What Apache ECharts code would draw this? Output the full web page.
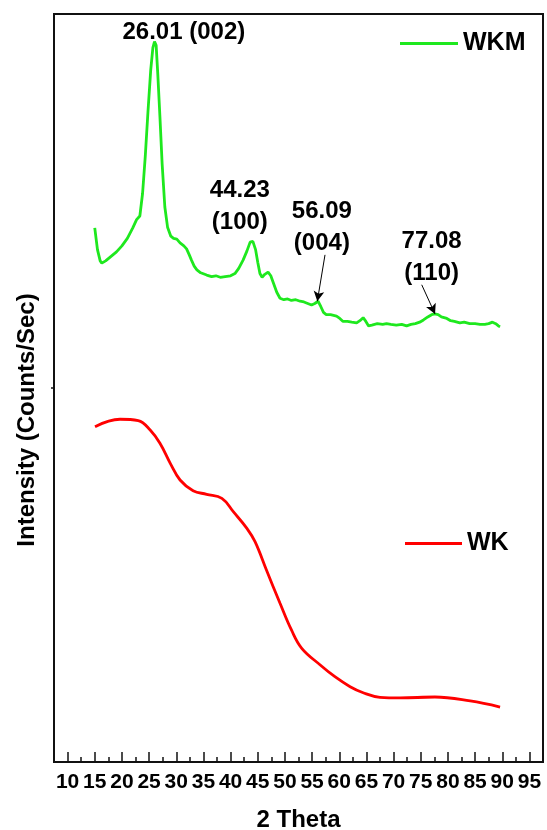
<!DOCTYPE html>
<html>
<head>
<meta charset="utf-8">
<script src="https://cdn.jsdelivr.net/npm/echarts@6/dist/echarts.min.js"></script>
<style>html,body{margin:0;padding:0;background:#fff}#c{width:547px;height:830px}</style>
</head>
<body>
<div id="c"></div>
<script>
// 2 Theta values and intensities (arbitrary units, offset stacked)
const wkmTheta = [15.0,15.5,16.0,16.3,17,18,19,20,21,22,22.7,23.3,23.8,24.3,24.8,25.3,25.7,26.0,26.3,26.6,27.0,27.4,27.9,28.4,29.0,29.5,30.1,30.7,31.4,31.9,32.4,32.8,33.3,33.8,34.5,35.6,36.5,37.3,38.1,39,40,40.8,41.5,42.3,43.0,43.6,44.1,44.6,45.0,45.4,45.8,46.3,46.9,47.4,47.9,48.5,49.1,49.8,50.5,51.2,52.0,52.8,53.5,54.2,54.9,55.5,56.1,56.6,57.1,57.6,58.4,59.5,60.1,60.7,61.5,62.3,63.2,63.8,64.4,64.9,65.4,66.0,67.0,68.0,68.7,69.5,70.5,71.5,72.4,73.2,74.0,74.8,75.5,76.3,77.0,77.6,78.2,78.8,79.8,80.5,81.2,82.2,83.0,84.0,85.0,85.9,86.8,87.5,88.2,88.8,89.3,89.6];
const wkmInt = [71.4,68.5,67.0,66.7,67.0,67.6,68.2,69.0,70.0,71.4,72.5,73.0,76,81,87,92.5,95.5,96.3,95.8,92,86.2,80,74.2,71.5,70.3,70.0,69.9,69.4,69.0,68.6,67.8,67.1,66.3,65.8,65.4,65.1,64.9,65.0,64.8,64.9,65.0,65.3,66.0,67.1,68.3,69.5,69.6,68.5,66.8,65.3,64.8,65.2,65.5,65.0,64.0,62.8,62.0,61.8,61.9,61.7,61.8,61.6,61.5,61.3,61.1,61.3,61.6,60.9,60.1,59.8,59.8,59.6,59.3,58.9,58.9,58.8,58.7,59.0,59.4,58.9,58.3,58.4,58.6,58.5,58.6,58.5,58.4,58.5,58.3,58.5,58.6,58.8,59.1,59.5,59.8,59.9,59.8,59.5,59.3,59.0,58.9,58.7,58.8,58.6,58.6,58.5,58.5,58.6,58.8,58.6,58.3,58.2];
const wkTheta = [15.05,19.65,23.0,25.2,27.0,28.9,30.7,33.1,35.6,38.4,40.5,43.0,44.5,46.6,49.1,51.2,53.1,56.5,59.2,62.0,64.4,67.5,71.2,77.6,84.1,89.6];
const wkInt = [44.83,45.82,45.63,44.39,42.61,39.93,37.70,36.27,35.79,35.25,33.46,31.24,29.45,25.67,21.22,17.65,15.20,12.97,11.40,10.07,9.26,8.65,8.56,8.69,8.16,7.35];
const majorTicks = [10,15,20,25,30,35,40,45,50,55,60,65,70,75,80,85,90,95];
const minorTicks = [12.5,17.5,22.5,27.5,32.5,37.5,42.5,47.5,52.5,57.5,62.5,67.5,72.5,77.5,82.5,87.5,92.5];
const yTicks = [50];
const peakLabels = [
  {text:'26.01 (002)', at:[31.4,97.6]},
  {text:'44.23\n(100)', at:[41.7,74.3]},
  {text:'56.09\n(004)', at:[56.8,71.5]},
  {text:'77.08\n(110)', at:[77.0,67.4]}
];
const arrows = [
  {from:[57.38,67.8], to:[55.96,61.6]},
  {from:[75.18,63.8], to:[77.63,59.9]}
];

const pair = (xs, ys) => xs.map((x,i)=>[x, ys[i]]);
const FONT = 'Liberation Sans, Arial, sans-serif';
const chart = echarts.init(document.getElementById('c'));
chart.setOption({
  animation:false,
  backgroundColor:'#fff',
  grid:{left:54, top:14, width:489, height:748, containLabel:false, outerBoundsMode:'none',
        show:true, borderColor:'#111', borderWidth:2, backgroundColor:'transparent'},
  legend:[
    {data:[{name:'WKM', icon:'rect'}], left:400, top:31, padding:0, itemWidth:58, itemHeight:3, itemGap:5,
     textStyle:{fontFamily:FONT, fontWeight:'bold', fontSize:25, color:'#000'}},
    {data:[{name:'WK', icon:'rect'}], left:405, top:531, padding:0, itemWidth:57, itemHeight:3, itemGap:5,
     textStyle:{fontFamily:FONT, fontWeight:'bold', fontSize:25, color:'#000'}}
  ],
  xAxis:[
    {type:'value', min:7.5, max:97.5, position:'bottom',
     name:'2 Theta', nameLocation:'middle', nameGap:46,
     nameTextStyle:{fontFamily:FONT, fontWeight:'bold', fontSize:24, color:'#000'},
     axisLine:{show:true, lineStyle:{color:'#111', width:2}},
     axisTick:{show:true, inside:true, length:10, lineStyle:{color:'#111', width:1.5}, customValues:majorTicks},
     axisLabel:{show:true, customValues:majorTicks, margin:10, fontFamily:FONT, fontWeight:'bold', fontSize:21, color:'#000'},
     splitLine:{show:false}},
    {type:'value', min:7.5, max:97.5, position:'bottom',
     axisLine:{show:false},
     axisTick:{show:true, inside:true, length:5, lineStyle:{color:'#111', width:1.5}, customValues:minorTicks},
     axisLabel:{show:false}, splitLine:{show:false}}
  ],
  yAxis:{type:'value', min:0, max:100,
     name:'Intensity (Counts/Sec)', nameLocation:'middle', nameGap:15,
     nameTextStyle:{fontFamily:FONT, fontWeight:'bold', fontSize:24, color:'#000', padding:[0,64,0,0]},
     axisLine:{show:true, lineStyle:{color:'#111', width:2}},
     axisTick:{show:true, inside:false, length:3, lineStyle:{color:'#111', width:1.5}, customValues:yTicks},
     axisLabel:{show:false}, splitLine:{show:false}},
  series:[
    {name:'WKM', type:'line', data:pair(wkmTheta, wkmInt), showSymbol:false, symbol:'none',
     lineStyle:{color:'#1ee81e', width:2.8}, itemStyle:{color:'#1ee81e'},
     markPoint:{symbol:'rect', symbolSize:1, silent:true, itemStyle:{color:'rgba(0,0,0,0)'},
       label:{show:true, position:'inside', fontFamily:FONT, fontWeight:'bold', fontSize:24, color:'#000', lineHeight:32,
              formatter:p=>p.name},
       data:peakLabels.map(l=>({name:l.text, coord:l.at}))},
     markLine:{silent:true, symbol:['none','arrow'], symbolSize:[8,10], label:{show:false},
       lineStyle:{color:'#000', width:1, type:'solid'},
       data:arrows.map(a=>[{coord:a.from},{coord:a.to}])}
    },
    {name:'WK', type:'line', data:pair(wkTheta, wkInt), smooth:0.4, showSymbol:false, symbol:'none',
     lineStyle:{color:'#ff0000', width:2.8}, itemStyle:{color:'#ff0000'}}
  ]
});
</script>
</body>
</html>
